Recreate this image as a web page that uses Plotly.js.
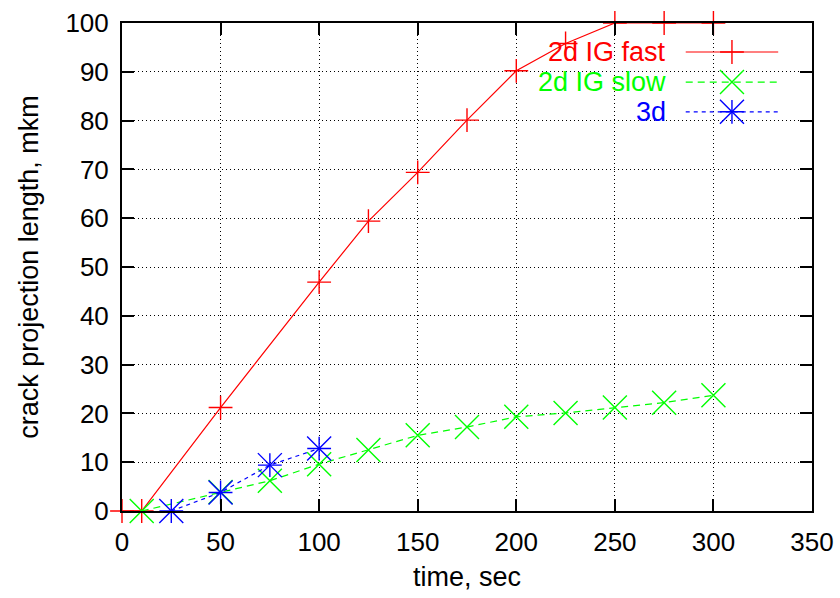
<!DOCTYPE html>
<html>
<head>
<meta charset="utf-8">
<script src="https://cdn.plot.ly/plotly-3.0.1.min.js"></script>
<style>html,body{margin:0;padding:0;background:#fff;}#chart{width:840px;height:598px;}</style>
</head>
<body>
<div id="chart"></div>
<script>
// Data
const fastTime = [0, 10, 50, 100, 125, 150, 175, 200, 225, 250, 275, 300];
const fastLen  = [0, 0, 21.2, 46.9, 59.4, 69.4, 80.1, 90.2, 95.8, 100, 100, 100];
const slowTime = [10, 50, 75, 100, 125, 150, 175, 200, 225, 250, 275, 300];
const slowLen  = [0, 3.9, 6.2, 9.6, 12.5, 15.5, 17.2, 19.3, 20.1, 21.2, 22.2, 23.7];
const d3Time = [25, 50, 75, 100];
const d3Len  = [0, 3.8, 9.4, 12.8];
const seriesNames = ['2d IG fast', '2d IG slow', '3d'];
const xTicks = [0, 50, 100, 150, 200, 250, 300, 350];
const yTicks = [0, 10, 20, 30, 40, 50, 60, 70, 80, 90, 100];

const FONT = 'Liberation Sans, Arial, sans-serif';
const RED = '#ff0000', GREEN = '#00ff00', BLUE = '#0000ff';
const PLUS = {symbol: 'cross-thin-open', size: 17};
const CROSS = {symbol: 'x-thin-open', size: 24};

function mk(shape, color) {
  return {symbol: shape.symbol, size: shape.size, color: color, line: {color: color, width: 1.4}};
}

const traces = [
  {x: fastTime, y: fastLen, type: 'scatter', mode: 'lines+markers', cliponaxis: false,
   line: {color: RED, width: 1.2}, marker: mk(PLUS, RED)},
  {x: slowTime, y: slowLen, type: 'scatter', mode: 'lines+markers', cliponaxis: false,
   line: {color: GREEN, width: 1.2, dash: '7px,5px'}, marker: mk(CROSS, GREEN)},
  {x: d3Time, y: d3Len, type: 'scatter', mode: 'lines+markers', cliponaxis: false,
   line: {color: BLUE, width: 1.2, dash: '4px,4px'}, marker: mk(PLUS, BLUE)},
  {x: d3Time, y: d3Len, type: 'scatter', mode: 'markers', cliponaxis: false, marker: mk(CROSS, BLUE)}
];

// Custom key (text left of sample, as in the reference)
const keyRowsY = [0.9406, 0.879, 0.818];
const keySampleX = [0.817, 0.951];
const keyMarkX = 0.884;
const keyTextX = 0.791;
const keyColors = [RED, GREEN, BLUE];
const keyDash = ['solid', '7px,5px', '4px,4px'];
const keySyms = [[PLUS], [CROSS], [PLUS, CROSS]];
keyRowsY.forEach((ry, i) => {
  traces.push({x: keySampleX, y: [ry, ry], xaxis: 'x2', yaxis: 'y2', mode: 'lines',
    line: {color: keyColors[i], width: 1.2, dash: keyDash[i]}, cliponaxis: false, hoverinfo: 'skip'});
  keySyms[i].forEach(s => traces.push({x: [keyMarkX], y: [ry], xaxis: 'x2', yaxis: 'y2', mode: 'markers',
    cliponaxis: false, hoverinfo: 'skip', marker: mk(s, keyColors[i])}));
});

const annotations = seriesNames.map((n, i) => ({
  xref: 'paper', yref: 'paper', x: keyTextX, y: keyRowsY[i], xanchor: 'right', yanchor: 'middle',
  text: n, showarrow: false, font: {family: FONT, size: 27, color: keyColors[i]}
}));

const axisCommon = {
  showline: true, linecolor: '#000', linewidth: 2, mirror: 'ticks',
  ticks: 'inside', ticklen: 12, tickwidth: 2, tickcolor: '#000',
  showgrid: true, gridcolor: '#000', gridwidth: 1, griddash: '1px,3px',
  zeroline: false, tickfont: {family: FONT, size: 26, color: '#000'}
};

const layout = {
  width: 840, height: 598,
  margin: {l: 122, r: 28, t: 23, b: 87},
  paper_bgcolor: '#fff', plot_bgcolor: '#fff',
  showlegend: false,
  font: {family: FONT, size: 26, color: '#000'},
  xaxis: Object.assign({}, axisCommon, {range: [0, 350], tickvals: xTicks, ticktext: xTicks.map(String),
    ticklabelstandoff: 7,
    title: {text: 'time, sec', font: {family: FONT, size: 27}, standoff: 11}}),
  yaxis: Object.assign({}, axisCommon, {range: [0, 100], tickvals: yTicks, ticktext: yTicks.map(String),
    ticklabelstandoff: 6,
    title: {text: 'crack projection length, mkm', font: {family: FONT, size: 27}, standoff: 19}}),
  xaxis2: {overlaying: 'x', range: [0, 1], visible: false, fixedrange: true},
  yaxis2: {overlaying: 'y', range: [0, 1], visible: false, fixedrange: true},
  shapes: [{type: 'rect', xref: 'paper', yref: 'paper', x0: 0.52, x1: 0.97, y0: 0.79, y1: 0.975,
    fillcolor: '#fff', line: {width: 0}, layer: 'between'}],
  annotations: annotations
};

Plotly.newPlot('chart', traces, layout, {staticPlot: true, displayModeBar: false});
</script>
</body>
</html>
